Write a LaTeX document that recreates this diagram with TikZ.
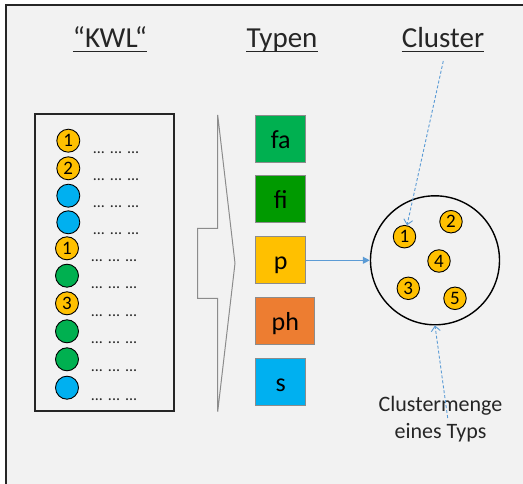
\documentclass[tikz,border=0pt]{standalone}
\usepackage{fontspec}
\setmainfont{Carlito}
\usetikzlibrary{arrows.meta}
\definecolor{bg}{HTML}{F2F2F2}
\definecolor{orng}{HTML}{FFC000}
\definecolor{cyanb}{HTML}{00B0F0}
\definecolor{grn}{HTML}{00B050}
\definecolor{dgrn}{HTML}{009A00}
\definecolor{orgb}{HTML}{ED7D31}
\definecolor{arrb}{HTML}{5B9BD5}
\definecolor{txt}{HTML}{262626}
\tikzset{
  title/.style={inner sep=0pt, anchor=base, font=\fontsize{29}{34}\selectfont, text=txt},
  dot/.style={circle, draw=black, line width=0.9pt, minimum size=23pt, inner sep=0pt,
    font=\fontsize{19}{20}\selectfont, text height=12.5pt, text depth=0pt},
  odot/.style={dot, fill=orng},
  bdot/.style={dot, fill=cyanb},
  gdot/.style={dot, fill=grn},
  cdot/.style={dot, fill=orng, minimum size=22.5pt},
  dots/.style={inner sep=0pt, anchor=base west, font=\fontsize{16}{16}\selectfont, text=txt},
  typbox/.style={draw=black!45, line width=0.8pt, minimum width=50pt, minimum height=47pt,
    inner sep=0pt, font=\fontsize{26}{30}\selectfont, text height=19pt, text depth=0pt},
  dasharrow/.style={draw=arrb, line width=0.9pt, dash pattern=on 3pt off 2pt,
    -{Straight Barb[length=5pt,width=9pt]}},
}
\newcommand{\dd}{...\hspace{5pt}...\hspace{5pt}...}
\begin{document}
\begin{tikzpicture}[x=1pt,y=-1pt]
\useasboundingbox (0,0) rectangle (523,484);
\fill[white] (0,0) rectangle (523,484);
\draw[fill=bg, draw=black!85, line width=1.4pt] (6,5) rectangle (530,492);

% titles
\node[title] (tk) at (110,48) {“KWL“};
\node[title] (tt) at (282,48) {Typen};
\node[title] (tc) at (443,48) {Cluster};
\foreach \t in {tk,tt,tc}
  \draw[txt, line width=1.3pt] ([yshift=-3.5pt]\t.base west) -- ([yshift=-3.5pt]\t.base east);

% KWL box
\draw[black!85, line width=1.2pt] (35,114) rectangle (174,411);
\node[odot] (k1) at (68.3,140.7) {1};
\node[odot] (k2) at (68.3,168.3) {2};
\node[bdot] (k3) at (68.3,195.7) {};
\node[bdot] (k4) at (68.3,222.3) {};
\node[odot] (k5) at (67,248.3) {1};
\node[gdot] (k6) at (67,275.7) {};
\node[odot] (k7) at (67,303.3) {3};
\node[gdot] (k8) at (67,331.3) {};
\node[gdot] (k9) at (67,359.3) {};
\node[bdot] (k10) at (67,387.7) {};
\node[dots] (d1) at (92.7,153.5) {\dd};
\node[dots] (d2) at (92.7,180.5) {\dd};
\node[dots] (d3) at (92.7,208) {\dd};
\node[dots] (d4) at (92.7,234.5) {\dd};
\node[dots] (d5) at (90.7,261.5) {\dd};
\node[dots] (d6) at (90.7,288.5) {\dd};
\node[dots] (d7) at (90.7,316.5) {\dd};
\node[dots] (d8) at (90.7,344) {\dd};
\node[dots] (d9) at (90.7,372) {\dd};
\node[dots] (d10) at (90.7,400.5) {\dd};

% notched chevron arrow
\draw[black!45, line width=1pt, line join=miter]
  (217.7,115) -- (217.7,228.3) -- (197.7,228.3) -- (197.7,298.3) -- (217.7,298.3)
  -- (217.7,411.7) -- (235,263.3) -- cycle;

% type boxes
\node[typbox, fill=grn] (fa) at (280.7,138.7) {fa};
\node[typbox, fill=dgrn] (fi) at (280.7,199) {fi};
\node[typbox, fill=orng] (p) at (280.7,260.3) {p};
\node[typbox, fill=orgb, minimum width=59pt] (ph) at (285.3,321) {ph};
\node[typbox, fill=cyanb] (s) at (280.7,382) {s};

% cluster circle
\node[circle, draw=black, line width=1.4pt, minimum size=129pt, inner sep=0pt] (cl) at (435,260.3) {};
\node[cdot] (c1) at (404.5,236.7) {1};
\node[cdot] (c2) at (451,221.7) {2};
\node[cdot] (c4) at (439,261) {4};
\node[cdot] (c3) at (408.3,288.3) {3};
\node[cdot] (c5) at (455,298.3) {5};

% p -> cluster
\draw[arrb, line width=1.2pt, -{Triangle[length=7pt,width=7pt]}] (p.east) -- (cl.west);

% annotation text
\node[inner sep=0pt, anchor=base, align=center, text=txt,
  font=\fontsize{22}{26.5}\selectfont] (lab) at (440.5,438.3) {Clustermenge\\eines Typs};

\coordinate (ctop) at (443.3,61);
\coordinate (cbot) at (447.7,418);
\draw[dasharrow] (ctop) -- (c1);
\draw[dasharrow] (cbot) -- (cl.south);
\end{tikzpicture}
\end{document}
